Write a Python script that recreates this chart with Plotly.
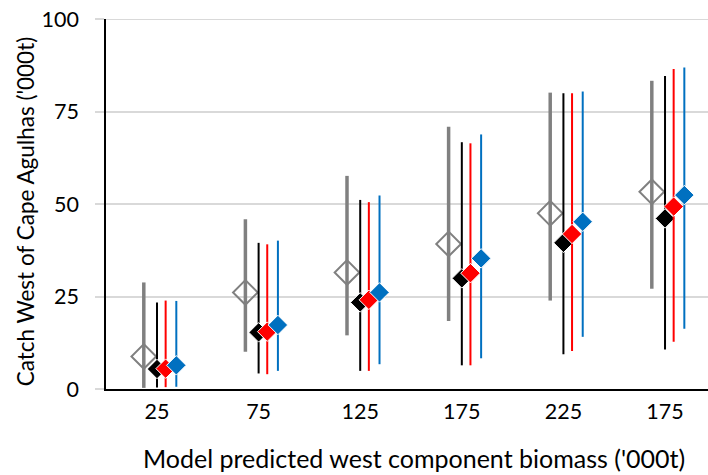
import plotly.graph_objects as go

categories = ["25", "75", "125", "175", "225", "175"]

grey_mid = [8.8, 26.1, 31.5, 39.2, 47.5, 53.3]
grey_low = [0.3, 10.1, 14.5, 18.4, 23.9, 27.1]
grey_high = [28.8, 45.9, 57.6, 70.9, 80.1, 83.3]

black_mid = [5.4, 15.3, 23.4, 29.9, 39.5, 46.1]
black_low = [0.4, 4.2, 4.9, 6.4, 9.4, 10.7]
black_high = [23.4, 39.5, 51.1, 66.7, 79.9, 84.6]

red_mid = [5.5, 15.5, 24.1, 31.3, 41.9, 49.3]
red_low = [0.5, 4.0, 4.9, 6.4, 10.3, 12.8]
red_high = [23.9, 39.1, 50.5, 66.4, 79.9, 86.5]

blue_mid = [6.4, 17.3, 26.1, 35.3, 45.2, 52.4]
blue_low = [0.6, 4.9, 6.7, 8.3, 14.1, 16.3]
blue_high = [23.8, 40.1, 52.3, 68.8, 80.4, 86.9]

y_ticks = [0, 25, 50, 75, 100]

x_title = "Model predicted west component biomass ('000t)"
y_title = "Catch West of Cape Agulhas ('000t)"

FONT = "Lato"
GRID = "#d9d9d9"

series = [
    dict(mid=grey_mid, low=grey_low, high=grey_high, off=-0.13, color="#808080",
         symbol="diamond-open", size=19, lw=2, lc="#808080", thick=3.5),
    dict(mid=black_mid, low=black_low, high=black_high, off=0.0, color="#000000",
         symbol="diamond", size=15, lw=1, lc="#ffffff", thick=2),
    dict(mid=red_mid, low=red_low, high=red_high, off=0.085, color="#ff0000",
         symbol="diamond", size=15, lw=1, lc="#ffffff", thick=2),
    dict(mid=blue_mid, low=blue_low, high=blue_high, off=0.19, color="#0070c0",
         symbol="diamond", size=15, lw=1, lc="#ffffff", thick=2),
]

fig = go.Figure()
idx = list(range(len(categories)))
for s in series:
    fig.add_trace(go.Scatter(
        x=[i + s["off"] for i in idx],
        y=s["mid"],
        mode="markers",
        marker=dict(symbol=s["symbol"], size=s["size"], color=s["color"],
                    line=dict(width=s["lw"], color=s["lc"])),
        error_y=dict(type="data", symmetric=False,
                     array=[h - m for h, m in zip(s["high"], s["mid"])],
                     arrayminus=[m - l for m, l in zip(s["mid"], s["low"])],
                     width=0, thickness=s["thick"], color=s["color"]),
        showlegend=False,
        hoverinfo="skip",
    ))

fig.update_layout(
    width=708, height=475,
    margin=dict(l=106, r=0, t=19, b=86, autoexpand=False),
    paper_bgcolor="white", plot_bgcolor="white",
    font=dict(family=FONT, color="#000000", size=21),
    xaxis=dict(
        range=[-0.502, 5.423],
        tickmode="array", tickvals=idx, ticktext=categories,
        showgrid=False, zeroline=False,
        showline=True, linecolor="#000000", linewidth=1.5,
        ticks="", ticklabelstandoff=2,
        tickfont=dict(size=21.5, family=FONT),
        layer="above traces", automargin=False,
    ),
    yaxis=dict(
        range=[0, 100],
        tickmode="array", tickvals=y_ticks,
        showgrid=True, gridcolor=GRID, gridwidth=2,
        zeroline=False,
        showline=True, linecolor="#000000", linewidth=1.5,
        ticks="outside", ticklen=9, tickcolor=GRID, tickwidth=2,
        ticklabelstandoff=12,
        tickfont=dict(size=21.5, family=FONT),
        layer="above traces", automargin=False,
    ),
    shapes=[
        # top gridline (plotly omits the gridline lying on the plot edge)
        dict(type="line", xref="paper", yref="y", x0=0, x1=1,
             y0=y_ticks[-1], y1=y_ticks[-1],
             line=dict(color=GRID, width=2), layer="above"),
    ],
    annotations=[
        dict(text=x_title, xref="paper", yref="paper", x=0.5116, y=-0.1865,
             xanchor="center", yanchor="middle", showarrow=False,
             font=dict(size=25, family=FONT, color="#000000")),
        dict(text=y_title, xref="paper", yref="paper", x=-0.1346, y=0.48,
             xanchor="center", yanchor="middle", showarrow=False, textangle=-90,
             font=dict(size=22.5, family=FONT, color="#000000")),
    ],
)

fig.write_html("out.html", config={"displayModeBar": False},
               post_script="document.body.style.margin='0';")
